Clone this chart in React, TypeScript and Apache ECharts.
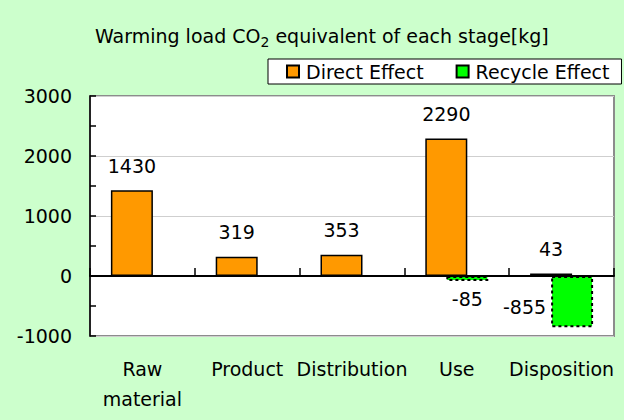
import React, { useEffect, useRef } from "react";
import * as echarts from "echarts";

const categories = ["Raw material", "Product", "Distribution", "Use", "Disposition"];
const directEffect = [1430, 319, 353, 2290, 43];
const recycleEffect: (number | string)[] = ["-", "-", "-", -85, -855];
const yTicks = [-1000, 0, 1000, 2000, 3000];

const FONT = "DejaVu Sans";
const FS = 19;

export default function App() {
  const ref = useRef<HTMLDivElement>(null);
  useEffect(() => {
    document.body.style.margin = "0";
    const chart = echarts.init(ref.current!, null, { renderer: "svg" });
    chart.setOption({
      animation: false,
      backgroundColor: "#CCFFCC",
      textStyle: { fontFamily: FONT },
      title: {
        left: 90,
        top: 18,
        text: "{a|Warming load CO}{b|2}{a| equivalent of each stage[kg]}",
        textStyle: {
          fontWeight: "normal",
          rich: {
            a: { fontSize: FS, fontFamily: FONT, fontWeight: "normal", color: "#000", lineHeight: 26 },
            b: { fontSize: 14, fontFamily: FONT, fontWeight: "normal", color: "#000", lineHeight: 26, verticalAlign: "bottom" },
          },
        },
      },
      legend: {
        left: 268,
        top: 59,
        padding: [3, 12, 3, 18],
        backgroundColor: "#fff",
        borderColor: "#000",
        borderWidth: 1,
        borderRadius: 0,
        itemWidth: 12,
        itemHeight: 12,
        itemGap: 32,
        icon: "rect",
        textStyle: { fontSize: FS, fontFamily: FONT, color: "#000", padding: [0, 0, 0, 2] },
        data: ["Direct Effect", "Recycle Effect"],
      },
      grid: {
        left: 90,
        right: 10,
        top: 96,
        bottom: 84,
        show: true,
        backgroundColor: "#fff",
        borderColor: "#8c8c8c",
        borderWidth: 2,
      },
      xAxis: [
        {
          type: "category",
          data: categories,
          axisLine: { onZero: true, lineStyle: { color: "#000", width: 2 } },
          axisTick: { show: true, inside: true, length: 8, alignWithLabel: false, lineStyle: { color: "#000", width: 1.5 } },
          axisLabel: { show: false },
          splitLine: { show: false },
        },
        {
          type: "category",
          data: categories,
          position: "bottom",
          axisLine: { show: false, onZero: false },
          axisTick: { show: false },
          axisLabel: {
            show: true,
            interval: 0,
            margin: 18,
            fontSize: FS,
            lineHeight: 30,
            fontFamily: FONT,
            color: "#000",
            formatter: (v: string) => (v === "Raw material" ? "Raw\nmaterial" : v),
          },
        },
      ],
      yAxis: {
        type: "value",
        min: yTicks[0],
        max: yTicks[yTicks.length - 1],
        interval: 1000,
        axisLine: { show: true, lineStyle: { color: "#000", width: 1.5 } },
        axisTick: { show: true, inside: true, length: 6, lineStyle: { color: "#000", width: 1.5 } },
        minorTick: { show: true, splitNumber: 2, length: 6, lineStyle: { color: "#000", width: 1.5 } },
        axisLabel: { fontSize: FS, fontFamily: FONT, color: "#000", margin: 18, formatter: (v: number) => String(v) },
        splitLine: { show: true, lineStyle: { color: "#cfcfcf", width: 1 } },
      },
      series: [
        {
          name: "Direct Effect",
          type: "bar",
          xAxisIndex: 0,
          barWidth: 42,
          barGap: "-50%",
          data: directEffect,
          itemStyle: { color: "#FF9900", borderColor: "#000", borderWidth: 1.5 },
          label: { show: true, position: "top", distance: 15, fontSize: FS, fontFamily: FONT, color: "#000" },
        },
        {
          name: "Recycle Effect",
          type: "bar",
          xAxisIndex: 0,
          barWidth: 42,
          data: recycleEffect.map((v, i) =>
            i === recycleEffect.length - 1 ? { value: v, label: { position: "left", distance: 5, offset: [0, 5] } } : v
          ),
          itemStyle: { color: "#00FF00", borderColor: "#000", borderWidth: 2, borderType: [3, 3] },
          label: { show: true, position: "bottom", distance: 8, fontSize: FS, fontFamily: FONT, color: "#000" },
        },
      ],
    });
    return () => chart.dispose();
  }, []);
  return <div ref={ref} style={{ width: 624, height: 420 }} />;
}
